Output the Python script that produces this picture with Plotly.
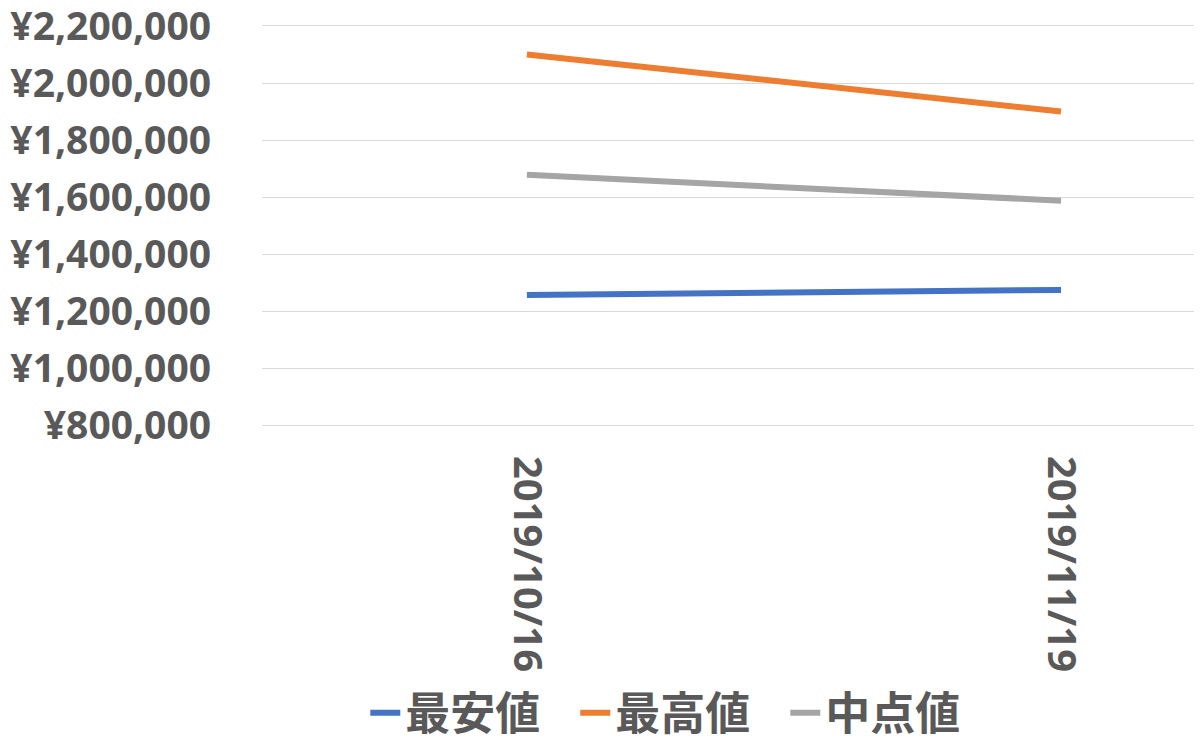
import plotly.graph_objects as go

dates = ["2019/10/16", "2019/11/19"]
min_price = [1256000, 1274000]
max_price = [2100000, 1900000]
mid_price = [1678000, 1587000]
series_names = ["最安値", "最高値", "中点値"]
y_ticks = [800000, 1000000, 1200000, 1400000, 1600000, 1800000, 2000000, 2200000]
y_tick_text = ["¥" + f"{v:,}" for v in y_ticks]

colors = ["#4472C4", "#ED7D31", "#A5A5A5"]
text_color = "#595959"
font_family = "Open Sans, Noto Sans CJK JP, sans-serif"

fig = go.Figure()
for name, vals, col in zip(series_names, [min_price, max_price, mid_price], colors):
    fig.add_trace(go.Scatter(x=dates, y=vals, mode="lines", name=name,
                             line=dict(color=col, width=6)))

fig.update_layout(
    width=1202, height=743,
    margin=dict(l=254, r=8, t=18, b=326, autoexpand=False),
    paper_bgcolor="white", plot_bgcolor="white",
    font=dict(family=font_family, color=text_color, size=39, weight="bold"),
    legend=dict(orientation="h", x=0.445, xanchor="center",
                yref="container", y=0.051, yanchor="middle",
                font=dict(size=45, family="Noto Sans CJK JP, sans-serif", weight="bold", color=text_color),
                itemwidth=30, entrywidth=165, entrywidthmode="pixels", tracegroupgap=0),
    showlegend=True,
)
fig.update_xaxes(type="category", range=[-0.496, 1.264], showgrid=False,
                 tickangle=90, ticks="", ticklabelstandoff=22, automargin=False,
                 showline=True, mirror=True, linecolor="#D9D9D9", linewidth=1,
                 tickfont=dict(size=40, weight="bold", color=text_color))
fig.update_yaxes(range=[800000, 2200000], tickmode="array", tickvals=y_ticks, ticktext=y_tick_text,
                 showgrid=True, gridcolor="#D9D9D9", gridwidth=1, automargin=False,
                 zeroline=False, ticks="", ticklabelstandoff=50, ticklabeloverflow="allow",
                 tickfont=dict(size=39, weight="bold", color=text_color))

fig.write_html("out.html")
